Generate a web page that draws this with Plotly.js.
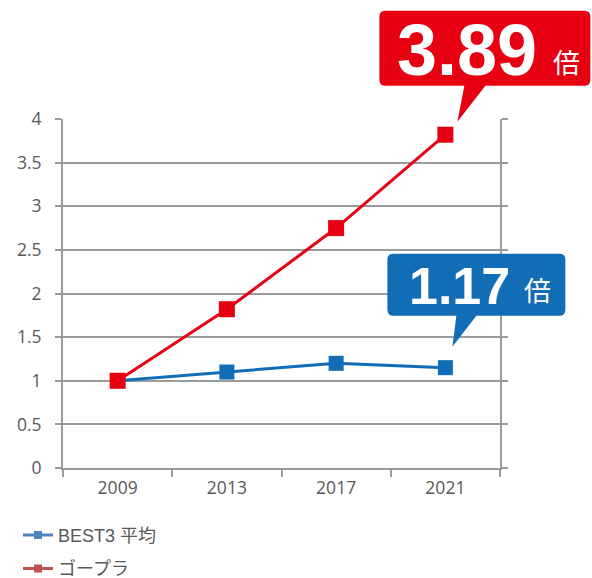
<!DOCTYPE html>
<html>
<head>
<meta charset="utf-8">
<script src="https://cdn.plot.ly/plotly-3.0.1.min.js"></script>
<style>
html,body{margin:0;padding:0;background:#fff;}
#chart{width:592px;height:578px;}
</style>
</head>
<body>
<div id="chart"></div>
<script>
// ---- data ----
const years = ['2009', '2013', '2017', '2021'];
const best3Avg = [1.00, 1.10, 1.20, 1.15];
const gopura = [1.00, 1.82, 2.75, 3.82];
const seriesNames = ['BEST3 平均', 'ゴープラ'];
const calloutValues = ['3.89', '1.17'];
const calloutUnit = '倍';
const yTicks = [0, 0.5, 1, 1.5, 2, 2.5, 3, 3.5, 4];

const RED = '#e60012';
const BLUE = '#116db6';
const GRID = '#9b9b9b';
const TXT = '#595959';

const xRange = [-0.5, years.length - 0.5];
const yRange = [0, 4];
const lastIdx = years.length - 1;
const toPaperX = i => (i - xRange[0]) / (xRange[1] - xRange[0]);
const toPaperY = v => (v - yRange[0]) / (yRange[1] - yRange[0]);

const traces = [
  {x: years, y: best3Avg, type: 'scatter', mode: 'lines+markers', showlegend: false,
   line: {color: BLUE, width: 3}, marker: {symbol: 'square', size: 15, color: BLUE}},
  {x: years, y: gopura, type: 'scatter', mode: 'lines+markers', showlegend: false,
   line: {color: RED, width: 3}, marker: {symbol: 'square', size: 16, color: RED}},
  // legend entries
  {x: [null], y: [null], type: 'scatter', mode: 'lines+markers', name: seriesNames[0], legendgroup: 'a',
   line: {color: '#4f81bd', width: 3}, marker: {symbol: 'square', size: 8, color: '#4f81bd'}},
  {x: [null], y: [null], type: 'scatter', mode: 'lines+markers', name: seriesNames[1], legendgroup: 'b',
   line: {color: '#c0504d', width: 3}, marker: {symbol: 'square', size: 8, color: '#c0504d'}}
];

function callout(xIdx, yVal, box, tri, color) {
  // pixel offsets relative to the data point (y positive up)
  const [l, r, b, t] = box, rad = 6;
  const [b0, b1, tx, ty] = tri;
  const p = `M ${l+rad},${t} L ${r-rad},${t} Q ${r},${t} ${r},${t-rad} L ${r},${b+rad} Q ${r},${b} ${r-rad},${b}` +
    ` L ${b1},${b} L ${tx},${ty} L ${b0},${b} L ${l+rad},${b} Q ${l},${b} ${l},${b+rad} L ${l},${t-rad} Q ${l},${t} ${l+rad},${t} Z`;
  return {type: 'path', xref: 'paper', yref: 'paper', xsizemode: 'pixel', ysizemode: 'pixel',
    xanchor: toPaperX(xIdx), yanchor: toPaperY(yVal), path: p, fillcolor: color, line: {width: 0}, layer: 'above'};
}

const shapes = [
  callout(lastIdx, gopura[lastIdx], [-66, 145, 49, 124], [19, 40, 12, 13], RED),
  callout(lastIdx, best3Avg[lastIdx], [-58, 120, 52, 114], [11, 31, 7, 21], BLUE)
];

const annotations = [
  {xref: 'x', yref: 'y', x: lastIdx, y: gopura[lastIdx], showarrow: false, text: '<b>' + calloutValues[0] + '</b>',
   xshift: 22, yshift: 85, xanchor: 'center', yanchor: 'middle',
   font: {family: 'Liberation Sans, Arial, sans-serif', size: 72, color: '#fff'}},
  {xref: 'x', yref: 'y', x: lastIdx, y: gopura[lastIdx], showarrow: false, text: calloutUnit,
   xshift: 121, yshift: 73, xanchor: 'center', yanchor: 'middle',
   font: {family: 'Noto Sans CJK JP', size: 27, color: '#fff'}},
  {xref: 'x', yref: 'y', x: lastIdx, y: best3Avg[lastIdx], showarrow: false, text: '<b>' + calloutValues[1] + '</b>',
   xshift: 14, yshift: 82, xanchor: 'center', yanchor: 'middle',
   font: {family: 'Liberation Sans, Arial, sans-serif', size: 52, color: '#fff'}},
  {xref: 'x', yref: 'y', x: lastIdx, y: best3Avg[lastIdx], showarrow: false, text: calloutUnit,
   xshift: 92, yshift: 78, xanchor: 'center', yanchor: 'middle',
   font: {family: 'Noto Sans CJK JP', size: 27, color: '#fff'}}
];

const layout = {
  width: 592, height: 578,
  margin: {l: 63, r: 92, t: 119, b: 110, pad: 0, autoexpand: false},
  paper_bgcolor: '#fff', plot_bgcolor: '#fff',
  font: {family: 'Open Sans, sans-serif', color: TXT, size: 17},
  xaxis: {type: 'category', range: xRange, tickson: 'boundaries', ticks: 'outside', ticklen: 7,
    tickwidth: 2, tickcolor: GRID, showline: true, linecolor: GRID, linewidth: 2, showgrid: false,
    zeroline: false, fixedrange: true, ticklabelstandoff: 3, tickfont: {size: 17.5, color: TXT}},
  yaxis: {range: yRange, tickvals: yTicks, ticks: 'outside', ticklen: 6, tickwidth: 2, tickcolor: GRID,
    showline: true, linecolor: GRID, linewidth: 2, mirror: 'ticks', showgrid: true, gridcolor: GRID,
    gridwidth: 2, zeroline: false, fixedrange: true, ticklabelstandoff: 10, tickfont: {size: 17.5, color: TXT}},
  legend: {x: -0.103, xanchor: 'left', y: -0.140, yanchor: 'top', orientation: 'v', traceorder: 'grouped',
    tracegroupgap: 7, font: {family: 'Liberation Sans, Noto Sans CJK JP, sans-serif', size: 18, color: TXT},
    bgcolor: 'rgba(0,0,0,0)'},
  shapes: shapes,
  annotations: annotations
};

Plotly.newPlot('chart', traces, layout, {displayModeBar: false, staticPlot: true});
</script>
</body>
</html>
